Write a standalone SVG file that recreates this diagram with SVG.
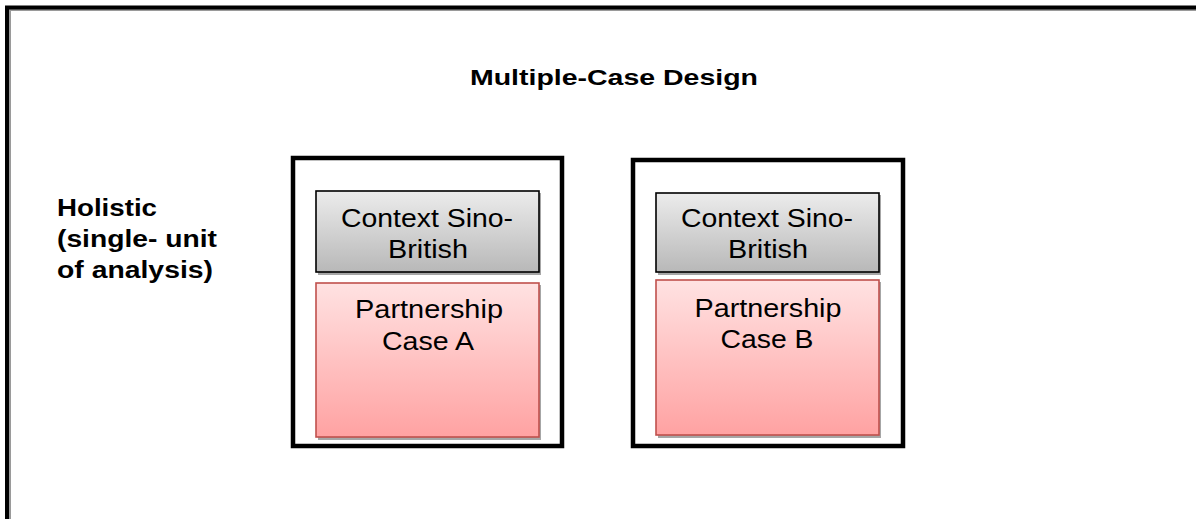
<svg xmlns="http://www.w3.org/2000/svg" width="1196" height="519" viewBox="0 0 1196 519">
<style>
.t{font-family:"Liberation Sans",Arial,sans-serif;fill:#000}
.b{font-weight:bold}
.h{font-size:23.5px}
.n{font-size:26px;text-anchor:middle}
.outer{fill:#fff;stroke:#000;stroke-width:4.5}
.ctx{fill:url(#gg);stroke:#000;stroke-width:1.6}
.case{fill:url(#pg);stroke:#c0504d;stroke-width:1.6}
.sh{fill:#a6a6a6}
</style>
<defs>
<linearGradient id="gg" x1="0" y1="0" x2="0" y2="1">
<stop offset="0" stop-color="#ececec"/>
<stop offset="1" stop-color="#b8b8b8"/>
</linearGradient>
<linearGradient id="pg" x1="0" y1="0" x2="0" y2="1">
<stop offset="0" stop-color="#ffe2e2"/>
<stop offset="1" stop-color="#ffa2a2"/>
</linearGradient>
</defs>
<rect width="1196" height="519" fill="#fff"/>
<g id="frame">
<path d="M10 519 V10 H1196" fill="none" stroke="#9a9a9a" stroke-width="2"/>
<path d="M7 519 V7.5 H1196" fill="none" stroke="#000" stroke-width="4"/>
</g>
<g id="title"><text class="t b" x="614" y="85" font-size="22.5" text-anchor="middle" textLength="288" lengthAdjust="spacingAndGlyphs">Multiple-Case Design</text></g>
<g id="holistic">
<text class="t b h" x="57" y="216" textLength="100" lengthAdjust="spacingAndGlyphs">Holistic</text>
<text class="t b h" x="57" y="247" textLength="160" lengthAdjust="spacingAndGlyphs">(single- unit</text>
<text class="t b h" x="57" y="278" textLength="156" lengthAdjust="spacingAndGlyphs">of analysis)</text>
</g>
<g id="caseA">
<rect class="outer" x="293" y="158" width="269" height="288"/>
<rect class="sh" x="318" y="193" width="223" height="82"/>
<rect class="ctx" x="316" y="191" width="223" height="81"/>
<text class="t n" x="427" y="227" textLength="172" lengthAdjust="spacingAndGlyphs">Context Sino-</text>
<text class="t n" x="428" y="258" textLength="80" lengthAdjust="spacingAndGlyphs">British</text>
<rect class="sh" x="318" y="285" width="223" height="155"/>
<rect class="case" x="316" y="283" width="223" height="154"/>
<text class="t n" x="429" y="318" textLength="148" lengthAdjust="spacingAndGlyphs">Partnership</text>
<text class="t n" x="428" y="350" textLength="92" lengthAdjust="spacingAndGlyphs">Case A</text>
</g>
<g id="caseB">
<rect class="outer" x="633" y="160" width="270" height="286"/>
<rect class="sh" x="658" y="195" width="223" height="80"/>
<rect class="ctx" x="656" y="193" width="223" height="79"/>
<text class="t n" x="767" y="227" textLength="172" lengthAdjust="spacingAndGlyphs">Context Sino-</text>
<text class="t n" x="768" y="258" textLength="80" lengthAdjust="spacingAndGlyphs">British</text>
<rect class="sh" x="658" y="282" width="223" height="156"/>
<rect class="case" x="656" y="280" width="223" height="155"/>
<text class="t n" x="768" y="317" textLength="147" lengthAdjust="spacingAndGlyphs">Partnership</text>
<text class="t n" x="767" y="348" textLength="93" lengthAdjust="spacingAndGlyphs">Case B</text>
</g>
<g id="connectors"/>
</svg>
